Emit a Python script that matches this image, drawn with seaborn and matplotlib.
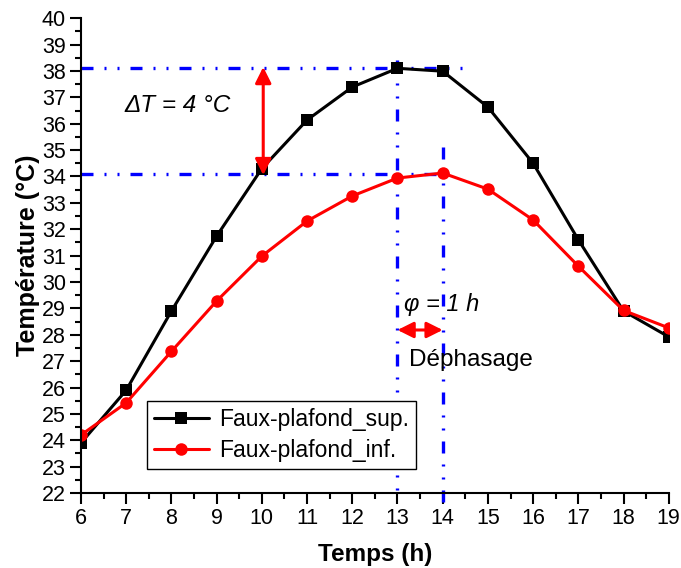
import matplotlib
matplotlib.use("Agg")
import matplotlib.pyplot as plt
import pandas as pd
import seaborn as sns
from matplotlib.ticker import MultipleLocator

hours = [6, 7, 8, 9, 10, 11, 12, 13, 14, 15, 16, 17, 18, 19]
tempSup = [23.9, 25.9, 28.9, 31.74, 34.3, 36.14, 37.39, 38.1, 37.99, 36.63, 34.5, 31.6, 28.9, 27.92]
tempInf = [24.2, 25.42, 27.37, 29.28, 30.98, 32.31, 33.26, 33.94, 34.13, 33.52, 32.35, 30.6, 28.92, 28.26]
seriesNames = ["Faux-plafond_sup.", "Faux-plafond_inf."]

peakSup = 38.1
peakInf = 34.1
timeSup = 13
timeInf = 14


def plotResults(df: pd.DataFrame, fp: str) -> None:
    fig, ax = plt.subplots(figsize=(6.81, 5.68), dpi=100)
    fig.subplots_adjust(left=0.119, right=0.982, top=0.968, bottom=0.132)

    sns.lineplot(data=df[df["serie"] == seriesNames[0]], x="temps", y="temp",
                 color="black", marker="s", markersize=8, markeredgewidth=0,
                 linewidth=2.2, label=seriesNames[0], ax=ax)
    sns.lineplot(data=df[df["serie"] == seriesNames[1]], x="temps", y="temp",
                 color="red", marker="o", markersize=9, markeredgewidth=0,
                 linewidth=2.2, label=seriesNames[1], ax=ax)

    # dash - dot - dot, like Origin's dash-dot-dot
    dashdot = (0, (3.6, 3.3, 0.6, 3.3, 0.6, 3.3))
    blue = "#0000ff"
    lwBlue = 2.4
    ax.plot([6, 14.43], [peakSup, peakSup], color=blue, lw=lwBlue, ls=dashdot, zorder=1)
    ax.plot([6, 14.27], [peakInf, peakInf], color=blue, lw=lwBlue, ls=dashdot, zorder=1)
    ax.plot([timeSup, timeSup], [38.4, 22], color=blue, lw=lwBlue, ls=dashdot, zorder=1)
    ax.plot([timeInf, timeInf], [35.1, 21.5], color=blue, lw=lwBlue, ls=dashdot,
            zorder=1, clip_on=False)

    ax.annotate("", xy=(10.03, peakSup + 0.05), xytext=(10.03, peakInf - 0.05),
                arrowprops=dict(arrowstyle="<|-|>", color="red", lw=2.2,
                                mutation_scale=24, shrinkA=0, shrinkB=0))
    ax.annotate("", xy=(timeSup, 28.18), xytext=(timeInf, 28.18),
                arrowprops=dict(arrowstyle="<|-|>", color="red", lw=2.2,
                                mutation_scale=24, shrinkA=0, shrinkB=0))

    ax.text(6.95, 36.7, "ΔT = 4 °C", fontsize=17.5, style="italic",
            va="center", ha="left")
    ax.text(13.15, 29.15, "φ = 1 h", fontsize=17, style="italic",
            va="center", ha="left")
    ax.text(13.25, 27.05, "Déphasage", fontsize=17.5, va="center", ha="left")

    ax.set_xlim(6, 19)
    ax.set_ylim(22, 40)
    ax.xaxis.set_major_locator(MultipleLocator(1))
    ax.xaxis.set_minor_locator(MultipleLocator(0.5))
    ax.yaxis.set_major_locator(MultipleLocator(1))
    ax.yaxis.set_minor_locator(MultipleLocator(0.5))
    ax.tick_params(which="major", direction="out", length=8, width=1.5,
                   labelsize=15.5, colors="black", pad=3)
    ax.tick_params(which="minor", direction="out", length=4, width=1.5, colors="black")
    for side in ["left", "bottom"]:
        ax.spines[side].set_linewidth(1.5)
        ax.spines[side].set_color("black")
    sns.despine(ax=ax)

    ax.set_xlabel("Temps (h)", fontsize=17.5, fontweight="bold", labelpad=10)
    ax.set_ylabel("Température (°C)", fontsize=18, fontweight="bold", labelpad=1)

    leg = ax.legend(loc="upper left", bbox_to_anchor=(0.112, 0.193), fontsize=16.5,
                    frameon=True, fancybox=False, edgecolor="black", framealpha=1,
                    handlelength=2.4, borderpad=0.3, labelspacing=0.35,
                    handletextpad=0.45, borderaxespad=0)
    leg.get_frame().set_linewidth(1.0)
    leg.set_zorder(5)

    plt.savefig(fp)
    plt.clf()


def main() -> None:
    sns.set_style("ticks")
    plt.rcParams["font.family"] = ["Liberation Sans", "DejaVu Sans"]
    plt.rcParams["text.color"] = "black"
    plt.rcParams["axes.labelcolor"] = "black"

    df = pd.DataFrame({
        "temps": hours + hours,
        "temp": tempSup + tempInf,
        "serie": [seriesNames[0]] * len(hours) + [seriesNames[1]] * len(hours),
    })
    plotResults(df=df, fp="out.png")


if __name__ == "__main__":
    main()
